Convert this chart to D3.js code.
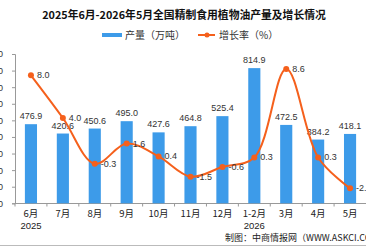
<!DOCTYPE html>
<html>
<head>
<meta charset="utf-8">
<script src="https://cdn.jsdelivr.net/npm/d3@7"></script>
<style>
  body { margin: 0; background: #fff; }
  svg { display: block; font-family: "Liberation Sans", "Noto Sans CJK SC", sans-serif; }
</style>
</head>
<body>
<script>
const w = 366;
const h = 248;

// data
const months = ["6月", "7月", "8月", "9月", "10月", "11月", "12月", "1-2月", "3月", "4月", "5月"];
const years = ["2025", "", "", "", "", "", "", "2026", "", "", ""];
const output = [476.9, 420.6, 450.6, 495.0, 427.6, 464.8, 525.4, 814.9, 472.5, 384.2, 418.1];
const growth = [8.0, 4.0, -0.3, 1.6, 0.4, -1.5, -0.6, 0.3, 8.6, 0.3, -2.6];
const leftTicks = [0, 100, 200, 300, 400, 500, 600, 700, 800, 900];

const barColor = "#3d9be9";
const lineColor = "#f5601c";

const svg = d3.select("body")
  .append("svg")
  .attr("width", w)
  .attr("height", h);

// title
svg.append("text")
   .attr("x", 184)
   .attr("y", 19)
   .attr("text-anchor", "middle")
   .attr("font-family", "'Noto Sans CJK SC', sans-serif")
   .attr("font-weight", "bold")
   .attr("font-size", 10.8)
   .attr("fill", "#111")
   .text("2025年6月-2026年5月全国精制食用植物油产量及增长情况");

// legend
svg.append("rect")
   .attr("x", 102).attr("y", 33)
   .attr("width", 20).attr("height", 4)
   .attr("fill", barColor);
svg.append("text")
   .attr("x", 125).attr("y", 39)
   .attr("font-family", "'Noto Sans CJK SC', sans-serif")
   .attr("font-size", 10)
   .attr("fill", "#333")
   .text("产量（万吨）");
svg.append("line")
   .attr("x1", 198).attr("x2", 215)
   .attr("y1", 35).attr("y2", 35)
   .attr("stroke", lineColor)
   .attr("stroke-width", 2);
svg.append("circle")
   .attr("cx", 207).attr("cy", 35).attr("r", 2.5)
   .attr("fill", lineColor);
svg.append("text")
   .attr("x", 219).attr("y", 39)
   .attr("font-family", "'Noto Sans CJK SC', sans-serif")
   .attr("font-size", 10)
   .attr("fill", "#333")
   .text("增长率（%）");

// scales
const xScale = d3.scaleBand()
  .domain(months)
  .range([15, 366])
  .paddingInner(0.62)
  .paddingOuter(0.31);

const yScale = d3.scaleLinear()
  .domain([0, 900])
  .range([203.3, 54]);

const y2Scale = d3.scaleLinear()
  .domain([-4, 10])
  .range([203.3, 54]);

const cx = d => xScale(d) + xScale.bandwidth() / 2;

// y axis (labels fall off the left edge like the original)
const yAxis = d3.axisLeft(yScale)
  .tickValues(leftTicks)
  .tickSize(3)
  .tickPadding(9);

const yg = svg.append("g")
  .attr("transform", "translate(15,0)")
  .call(yAxis);
yg.select(".domain").attr("stroke", "#999");
yg.selectAll(".tick line").attr("stroke", "#999");
yg.selectAll(".tick text").attr("font-size", 9).attr("fill", "#333");

// x axis line + ticks at band edges
const xg = svg.append("g");
xg.append("line")
  .attr("x1", 15).attr("x2", 366)
  .attr("y1", 203.5).attr("y2", 203.5)
  .attr("stroke", "#999");
xg.selectAll(".edge")
  .data(months)
  .enter()
  .append("line")
  .attr("class", "edge")
  .attr("x1", d => xScale(d) - xScale.step() * xScale.paddingInner() / 2)
  .attr("x2", d => xScale(d) - xScale.step() * xScale.paddingInner() / 2)
  .attr("y1", 203.5).attr("y2", 206.5)
  .attr("stroke", "#999");

// bars
svg.selectAll(".bar")
  .data(months)
  .enter()
  .append("rect")
  .attr("class", "bar")
  .attr("x", d => xScale(d))
  .attr("width", xScale.bandwidth())
  .attr("y", (d, i) => yScale(output[i]))
  .attr("height", (d, i) => yScale(0) - yScale(output[i]))
  .attr("fill", barColor);

// bar labels
svg.selectAll(".blabel")
  .data(months)
  .enter()
  .append("text")
  .attr("class", "blabel")
  .attr("x", d => cx(d))
  .attr("y", (d, i) => yScale(output[i]) - 5)
  .attr("text-anchor", "middle")
  .attr("font-size", 9)
  .attr("fill", "#333")
  .text((d, i) => output[i].toFixed(1));

// growth line
const line = d3.line()
  .x(d => cx(d))
  .y((d, i) => y2Scale(growth[i]))
  .curve(d3.curveCatmullRom);

svg.append("path")
  .datum(months)
  .attr("d", line)
  .attr("fill", "none")
  .attr("stroke", lineColor)
  .attr("stroke-width", 2);

svg.selectAll(".dot")
  .data(months)
  .enter()
  .append("circle")
  .attr("class", "dot")
  .attr("cx", d => cx(d))
  .attr("cy", (d, i) => y2Scale(growth[i]))
  .attr("r", 3)
  .attr("fill", lineColor);

svg.selectAll(".glabel")
  .data(months)
  .enter()
  .append("text")
  .attr("class", "glabel")
  .attr("x", d => cx(d) + 6)
  .attr("y", (d, i) => y2Scale(growth[i]) + 3)
  .attr("font-size", 9)
  .attr("fill", "#333")
  .text((d, i) => growth[i].toFixed(1));

// x labels
svg.selectAll(".mlabel")
  .data(months)
  .enter()
  .append("text")
  .attr("class", "mlabel")
  .attr("x", d => cx(d))
  .attr("y", 217)
  .attr("text-anchor", "middle")
  .attr("font-family", "'Noto Sans CJK SC', sans-serif")
  .attr("font-size", 9.5)
  .attr("fill", "#222")
  .text(d => d);

svg.selectAll(".ylabel")
  .data(months)
  .enter()
  .append("text")
  .attr("class", "ylabel")
  .attr("x", d => cx(d))
  .attr("y", 229)
  .attr("text-anchor", "middle")
  .attr("font-size", 9.5)
  .attr("fill", "#222")
  .text((d, i) => years[i]);

// source
svg.append("text")
   .attr("x", 225)
   .attr("y", 241)
   .attr("font-family", "'Noto Sans CJK SC', sans-serif")
   .attr("font-size", 9)
   .attr("fill", "#222")
   .text("制图：中商情报网（WWW.ASKCI.COM）");

svg.append("line")
   .attr("x1", 0).attr("x2", w)
   .attr("y1", 245.5).attr("y2", 245.5)
   .attr("stroke", "#bbb");
</script>
</body>
</html>
